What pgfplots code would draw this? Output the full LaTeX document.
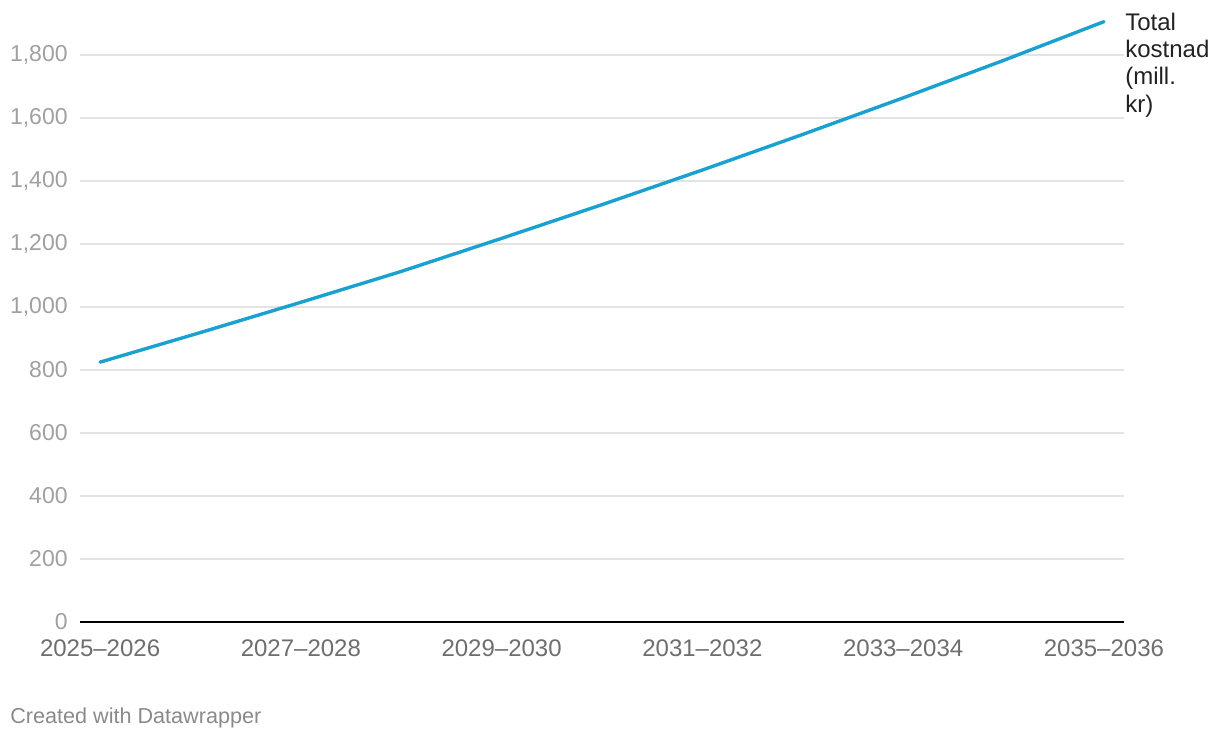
\documentclass[border=0pt]{standalone}
\usepackage{pgfplots}
\pgfplotsset{compat=1.18}
\usepackage{fontspec}
\setmainfont{Liberation Sans}
\definecolor{dwblue}{HTML}{1BA1D0}
\definecolor{gridc}{HTML}{E3E3E3}
\definecolor{ylab}{HTML}{A0A0A0}
\definecolor{xlab}{HTML}{6E6E6E}
\definecolor{footc}{HTML}{8A8A8A}
\definecolor{labc}{HTML}{222222}
\begin{document}
\begin{tikzpicture}
\useasboundingbox (0,0) rectangle (610pt,369pt);
\begin{axis}[
  at={(40pt,58pt)}, anchor=south west,
  scale only axis, width=522pt, height=300.8pt,
  xmin=-0.2, xmax=10.2, ymin=0, ymax=1910,
  axis line style={draw=none},
  clip=false,
  xtick={0,2,4,6,8,10},
  xticklabels={2025–2026,2027–2028,2029–2030,2031–2032,2033–2034,2035–2036},
  ytick={200,400,...,1800},
  extra y ticks={0},
  extra y tick style={grid style={black, line width=1pt}},
  ymajorgrids, grid style={gridc, line width=0.8pt},
  major tick length=0pt,
  tick style={draw=none},
  /pgf/number format/assume math mode=true,
  /pgf/number format/1000 sep={,},
  yticklabel style={font=\fontsize{11.5}{13}\selectfont, text=ylab, anchor=east, inner sep=0pt, xshift=-6pt},
  xticklabel style={font=\fontsize{12}{14}\selectfont, text=xlab, anchor=north, inner sep=0pt, yshift=-8.5pt},
]
\addplot[dwblue, line width=1.7pt, line join=round, line cap=round, mark=none] coordinates {
(0,825) (1,919) (2,1015) (3,1113) (4,1218) (5,1325) (6,1435) (7,1548) (8,1664) (9,1783) (10,1906)
};
\node[anchor=north west, inner sep=0pt, align=left, text=labc,
  font=\fontsize{12}{13.6}\selectfont, xshift=10.5pt, yshift=4.5pt]
  at (axis cs:10,1906) {Total\\kostnad\\(mill.\\kr)};
\end{axis}
\node[anchor=west, inner sep=0pt, text=footc, font=\fontsize{10.8}{12}\selectfont] at (5pt,10pt) {Created with Datawrapper};
\end{tikzpicture}
\end{document}
